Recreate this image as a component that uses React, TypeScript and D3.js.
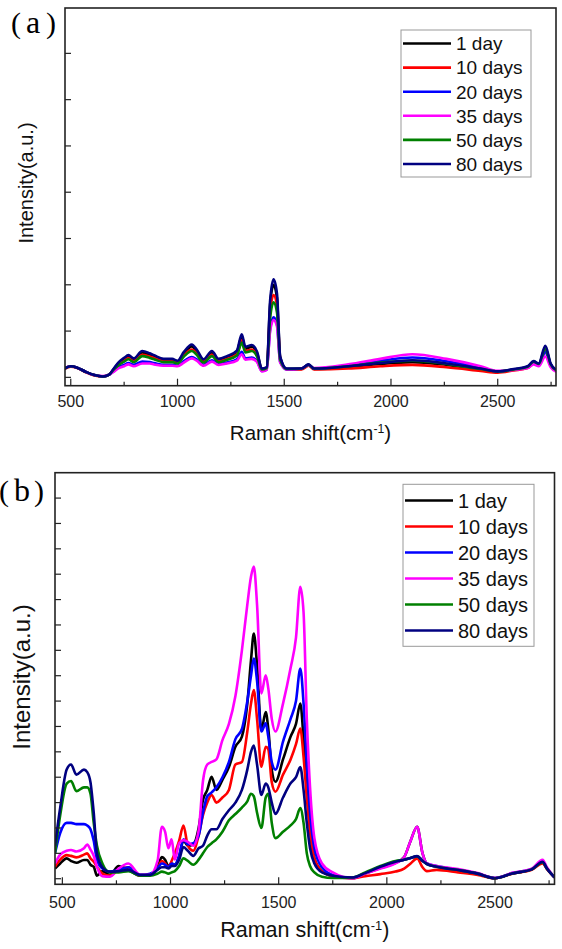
import React from "react";
import * as d3 from "d3";

const seriesNames = ["1 day", "10 days", "20 days", "35 days", "50 days", "80 days"];
const seriesColors = ["#000000", "#ff0000", "#0000ff", "#ff00ff", "#008000", "#000080"];

const xTicks = [500, 1000, 1500, 2000, 2500];
const xMinorTicks = [750, 1250, 1750, 2250, 2750];
const yTicksA = [0, 1, 2, 3, 4, 5, 6, 7];
const yTicksB = [0, 1, 2, 3, 4, 5, 6, 7, 8, 9, 10, 11, 12, 13, 14, 15];

// ---------- Panel (a) ----------
const shiftA = [470, 500, 530, 570, 610, 650, 680, 700, 725, 750, 770, 795, 835, 870, 890, 935, 975, 1000, 1030, 1067, 1090, 1122, 1161, 1192, 1232, 1278, 1301, 1318, 1348, 1373, 1395, 1418, 1434, 1450, 1466, 1481, 1512, 1580, 1614, 1640, 1800, 1950, 2100, 2260, 2420, 2500, 2575, 2640, 2668, 2692, 2723, 2748, 2775];
const a1day = [.19, .24, .21, .12, .05, .02, .06, .17, .31, .40, .45, .39, .54, .49, .45, .38, .38, .34, .52, .67, .57, .37, .54, .38, .44, .55, .88, .62, .66, .52, .18, .21, 1.58, 2.00, 1.71, .43, .18, .18, .27, .18, .22, .29, .33, .27, .17, .12, .17, .23, .33, .28, .62, .28, .15];
const a10days = [.18, .23, .20, .11, .04, .02, .06, .15, .28, .36, .42, .35, .49, .45, .42, .35, .35, .32, .47, .60, .52, .34, .49, .35, .40, .50, .80, .57, .60, .47, .17, .20, 1.40, 1.78, 1.55, .40, .17, .17, .25, .17, .19, .24, .27, .22, .14, .10, .15, .20, .30, .26, .55, .26, .14];
const a20days = [.19, .24, .21, .12, .05, .02, .06, .13, .22, .27, .31, .27, .34, .33, .31, .27, .27, .25, .35, .44, .39, .27, .37, .29, .32, .39, .55, .41, .43, .35, .14, .17, 1.05, 1.30, 1.15, .33, .17, .19, .27, .19, .26, .36, .43, .35, .21, .13, .17, .22, .31, .27, .55, .25, .14];
const a35days = [.20, .24, .21, .12, .05, .03, .06, .12, .20, .24, .28, .24, .30, .30, .28, .25, .25, .24, .32, .41, .36, .25, .34, .27, .30, .36, .50, .38, .40, .33, .13, .16, 1.00, 1.24, 1.10, .32, .17, .19, .26, .20, .28, .40, .50, .40, .24, .14, .16, .20, .28, .24, .45, .22, .12];
const a50days = [.19, .24, .21, .12, .05, .02, .06, .16, .27, .34, .39, .33, .46, .42, .39, .33, .33, .30, .45, .57, .49, .32, .46, .33, .38, .47, .75, .54, .57, .45, .17, .20, 1.28, 1.62, 1.40, .38, .18, .19, .27, .19, .24, .32, .36, .29, .18, .13, .17, .23, .34, .29, .62, .28, .15];
const a80days = [.19, .24, .21, .12, .05, .02, .06, .18, .33, .42, .48, .41, .57, .52, .48, .40, .40, .36, .55, .71, .60, .39, .57, .40, .46, .58, .93, .66, .70, .55, .19, .22, 1.67, 2.12, 1.81, .45, .19, .19, .28, .19, .24, .31, .37, .30, .19, .13, .18, .24, .35, .30, .68, .30, .16];

// ---------- Panel (b) ----------
const shiftB = [466, 490, 520, 540, 565, 600, 615, 630, 645, 660, 685, 720, 760, 805, 860, 905, 940, 960, 975, 990, 1005, 1020, 1040, 1060, 1080, 1105, 1130, 1150, 1170, 1190, 1212, 1240, 1270, 1300, 1330, 1355, 1372, 1385, 1400, 1420, 1440, 1452, 1468, 1485, 1520, 1555, 1580, 1600, 1615, 1630, 1645, 1665, 1700, 1750, 1840, 1900, 1970, 2040, 2080, 2110, 2140, 2165, 2185, 2230, 2330, 2420, 2500, 2580, 2670, 2720, 2740, 2775];
const b1day = [0.4, 0.6, 0.8, 0.7, 0.63, 0.74, 0.74, 0.55, 0.47, 0.12, 0.3, 0.15, 0.5, 0.35, 0.12, 0.15, 0.45, 0.85, 0.75, 0.5, 0.6, 0.55, 0.9, 1.5, 1.3, 1.35, 2.0, 3.1, 3.5, 4.02, 3.5, 3.9, 4.4, 5.2, 5.6, 6.9, 8.6, 9.66, 8.4, 5.85, 6.57, 5.9, 4.3, 3.82, 4.7, 5.6, 6.1, 6.9, 5.5, 3.6, 2.0, 0.8, 0.3, 0.1, 0.02, 0.2, 0.42, 0.62, 0.85, 1.5, 2.05, 1.0, 0.6, 0.48, 0.34, 0.2, 0.02, 0.21, 0.37, 0.66, 0.4, 0.05];
const b10days = [0.47, 0.75, 0.93, 0.9, 0.84, 0.95, 1.0, 0.8, 0.67, 0.47, 0.2, 0.12, 0.35, 0.45, 0.12, 0.15, 0.4, 0.7, 0.6, 0.45, 0.7, 1.0, 1.5, 2.1, 1.3, 1.1, 1.7, 2.5, 3.0, 3.3, 3.0, 3.2, 3.5, 4.5, 4.6, 5.8, 6.9, 7.43, 6.3, 4.41, 5.2, 5.1, 3.8, 3.43, 4.1, 4.7, 5.3, 5.92, 4.8, 3.2, 1.9, 0.8, 0.3, 0.1, 0.02, 0.1, 0.18, 0.28, 0.4, 0.6, 0.8, 0.45, 0.3, 0.35, 0.25, 0.15, 0.02, 0.2, 0.35, 0.6, 0.38, 0.05];
const b20days = [1.0, 1.8, 2.2, 2.2, 2.15, 2.15, 2.1, 1.95, 1.5, 0.74, 0.4, 0.28, 0.35, 0.45, 0.15, 0.2, 0.4, 0.6, 0.55, 0.45, 0.6, 0.55, 0.9, 1.55, 1.35, 1.4, 1.7, 2.6, 3.25, 3.4, 3.6, 4.0, 4.6, 5.5, 5.9, 7.0, 8.0, 8.68, 7.8, 5.8, 6.12, 5.6, 4.6, 4.3, 5.4, 6.3, 7.0, 8.28, 6.9, 4.5, 2.6, 1.2, 0.45, 0.15, 0.04, 0.22, 0.45, 0.65, 0.75, 0.82, 0.88, 0.72, 0.6, 0.5, 0.35, 0.2, 0.03, 0.22, 0.38, 0.66, 0.4, 0.05];
const b35days = [0.6, 0.95, 1.1, 1.13, 1.07, 1.2, 1.35, 1.15, 0.9, 0.47, 0.1, 0.08, 0.4, 0.6, 0.15, 0.15, 0.7, 2.05, 1.85, 1.2, 1.55, 0.75, 1.4, 1.52, 1.45, 1.3, 1.9, 3.85, 4.5, 4.6, 4.7, 5.46, 6.1, 7.2, 9.0, 10.8, 11.9, 12.3, 10.8, 7.3, 8.02, 7.5, 6.3, 5.8, 6.9, 8.3, 9.5, 11.5, 10.5, 6.3, 3.6, 1.6, 0.6, 0.25, 0.02, 0.2, 0.4, 0.6, 0.85, 1.5, 2.05, 1.0, 0.6, 0.5, 0.38, 0.22, 0.03, 0.23, 0.4, 0.75, 0.45, 0.05];
const b50days = [1.0, 2.5, 3.75, 3.85, 3.45, 3.6, 3.6, 3.35, 2.2, 1.3, 0.6, 0.25, 0.25, 0.3, 0.12, 0.12, 0.2, 0.28, 0.25, 0.2, 0.25, 0.3, 0.5, 0.8, 0.7, 0.55, 0.75, 1.0, 1.25, 1.4, 1.55, 1.85, 2.3, 2.55, 2.8, 3.05, 3.35, 3.25, 2.6, 2.0, 3.2, 3.35, 2.2, 1.6, 1.85, 2.1, 2.35, 2.78, 2.2, 1.0, 0.5, 0.25, 0.08, 0.03, 0.05, 0.25, 0.5, 0.7, 0.75, 0.82, 0.88, 0.7, 0.58, 0.47, 0.34, 0.2, 0.02, 0.21, 0.37, 0.65, 0.4, 0.05];
const b80days = [1.3, 2.8, 4.3, 4.5, 4.1, 4.3, 4.2, 3.8, 2.6, 1.0, 0.45, 0.28, 0.3, 0.35, 0.15, 0.15, 0.35, 0.45, 0.45, 0.4, 0.5, 0.5, 0.75, 1.25, 1.1, 0.9, 1.2, 1.3, 1.7, 1.95, 1.95, 2.35, 2.7, 3.0, 3.5, 4.3, 5.0, 5.25, 4.5, 3.3, 3.75, 3.6, 3.0, 2.55, 3.2, 3.76, 4.0, 4.4, 3.5, 2.2, 1.2, 0.6, 0.25, 0.12, 0.05, 0.22, 0.47, 0.67, 0.75, 0.82, 0.89, 0.7, 0.58, 0.47, 0.34, 0.2, 0.02, 0.21, 0.37, 0.67, 0.4, 0.05];

const seriesA = [a1day, a10days, a20days, a35days, a50days, a80days];
const seriesB = [b1day, b10days, b20days, b35days, b50days, b80days];

type PanelProps = {
  id: string;
  letter: string;
  shift: number[];
  series: number[][];
  left: number; right: number; top: number; bottom: number;
  xDomain: [number, number];
  yDomain: [number, number];
  yTicks: number[];
  labelX: number; labelY: number;
  tickLabelY: number; titleY: number; titleSize: number;
  yTitleX: number; yTitleY: number; yTitleSize: number;
  legend: { x: number; y: number; w: number; h: number; row0: number; step: number; size: number };
};

function Panel(p: PanelProps) {
  const x = d3.scaleLinear().domain(p.xDomain).range([p.left, p.right]);
  const y = d3.scaleLinear().domain(p.yDomain).range([p.bottom, p.top]);
  const line = d3.line<number>()
    .x((_, i) => x(p.shift[i]))
    .y((d) => y(d))
    .curve(d3.curveMonotoneX);
  const cx = (p.left + p.right) / 2;
  const sans = "'Liberation Sans', Arial, sans-serif";
  const serif = "'Liberation Serif', 'Times New Roman', serif";
  return (
    <g>
      <defs>
        <clipPath id={p.id}>
          <rect x={p.left} y={p.top} width={p.right - p.left} height={p.bottom - p.top} />
        </clipPath>
      </defs>
      <g fontFamily={serif} fill="#000">
        <text x={p.labelX} y={p.labelY} fontSize={30}>(</text>
        <text x={p.labelX + 15} y={p.labelY} fontSize={32}>{p.letter}</text>
        <text x={p.labelX + 35} y={p.labelY} fontSize={30}>)</text>
      </g>
      <g clipPath={`url(#${p.id})`}>
        {p.series.map((s, k) => (
          <path key={k} d={line(s) || ""} fill="none" stroke={seriesColors[k]} strokeWidth={2.6} strokeLinejoin="round" />
        ))}
      </g>
      {xTicks.map((t) => (
        <g key={"xt" + t}>
          <line x1={x(t)} x2={x(t)} y1={p.bottom} y2={p.bottom - 7} stroke="#222" strokeWidth={1.2} />
          <text x={x(t)} y={p.tickLabelY} textAnchor="middle" fontFamily={sans} fontSize={16} fill="#222">{t}</text>
        </g>
      ))}
      {xMinorTicks.map((t) => (
        <line key={"xm" + t} x1={x(t)} x2={x(t)} y1={p.bottom} y2={p.bottom - 4} stroke="#222" strokeWidth={1.2} />
      ))}
      {p.yTicks.map((t) => (
        <line key={"yt" + t} x1={p.left} x2={p.left + 6} y1={y(t)} y2={y(t)} stroke="#222" strokeWidth={1.2} />
      ))}
      <rect x={p.left} y={p.top} width={p.right - p.left} height={p.bottom - p.top} fill="none" stroke="#222" strokeWidth={1.6} />
      <text x={cx} y={p.titleY} textAnchor="middle" fontFamily={sans} fontSize={p.titleSize} fill="#111">
        Raman shift(cm<tspan dy={-7} fontSize={p.titleSize * 0.6}>-1</tspan><tspan dy={7}>)</tspan>
      </text>
      <text transform={`translate(${p.yTitleX},${p.yTitleY}) rotate(-90)`} textAnchor="middle" fontFamily={sans} fontSize={p.yTitleSize} fill="#111">
        Intensity(a.u.)
      </text>
      <rect x={p.legend.x} y={p.legend.y} width={p.legend.w} height={p.legend.h} fill="#fff" stroke="#999" strokeWidth={1} />
      {seriesNames.map((n, k) => {
        const ry = p.legend.row0 + k * p.legend.step;
        return (
          <g key={n}>
            <line x1={p.legend.x + 2} x2={p.legend.x + 50} y1={ry} y2={ry} stroke={seriesColors[k]} strokeWidth={2.6} />
            <text x={p.legend.x + 55} y={ry + p.legend.size * 0.36} fontFamily={sans} fontSize={p.legend.size} fill="#111">{n}</text>
          </g>
        );
      })}
    </g>
  );
}

export default function App() {
  return (
    <svg width={562} height={949} style={{ position: "absolute", left: 0, top: 0, background: "#fff" }}>
      <rect x={0} y={0} width={562} height={949} fill="#fff" />
      <Panel
        id="clipA" letter="a" shift={shiftA} series={seriesA}
        left={65} right={556} top={8} bottom={385.7}
        xDomain={[473, 2773]} yDomain={[-0.18, 7.98]} yTicks={yTicksA}
        labelX={11} labelY={33}
        tickLabelY={407} titleY={440} titleSize={20.5}
        yTitleX={33} yTitleY={183} yTitleSize={20}
        legend={{ x: 401, y: 30, w: 130, h: 147, row0: 43.5, step: 24.1, size: 19 }}
      />
      <Panel
        id="clipB" letter="b" shift={shiftB} series={seriesB}
        left={55} right={554.5} top={472.7} bottom={884.3}
        xDomain={[466, 2775]} yDomain={[-0.22, 16]} yTicks={yTicksB}
        labelX={-1} labelY={501}
        tickLabelY={908} titleY={937} titleSize={21.5}
        yTitleX={30} yTitleY={677} yTitleSize={24}
        legend={{ x: 403, y: 484.3, w: 131, h: 162, row0: 500.5, step: 26, size: 20 }}
      />
    </svg>
  );
}
